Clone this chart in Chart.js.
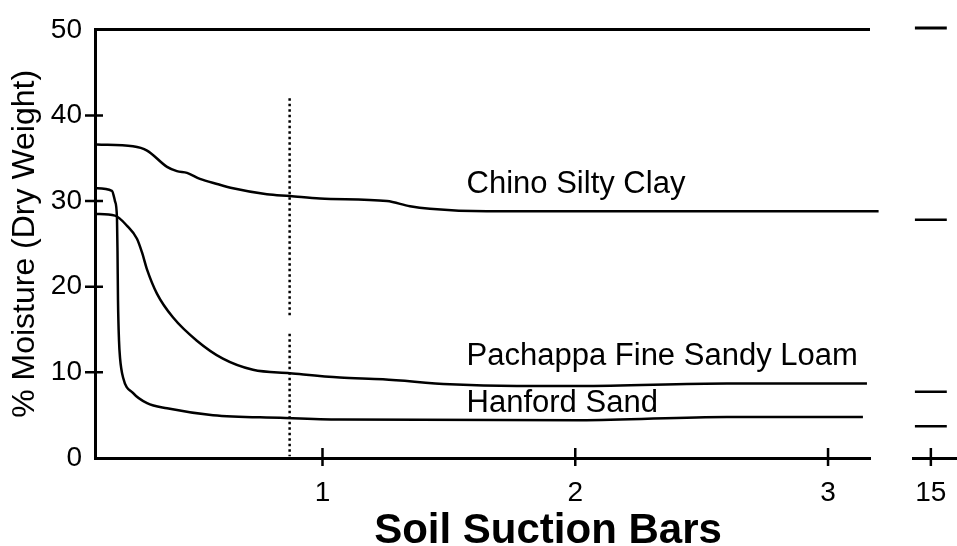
<!DOCTYPE html>
<html lang="en">
<head>
<meta charset="UTF-8">
<title>Soil Suction Bars</title>
<script src="https://cdn.jsdelivr.net/npm/chart.js"></script>
<style>
  body { margin: 0; background: #fff; }
  #wrap { position: relative; width: 957px; height: 546px; font-family: "Liberation Sans", Arial, sans-serif; }
  #wrap canvas { position: absolute; top: 0; }
  #xTitle { position: absolute; left: 348px; top: 508px; width: 400px; text-align: center;
            font-weight: bold; font-size: 42px; line-height: 42px; color: #000; }
</style>
</head>
<body>
<div id="wrap">
  <canvas id="mainChart" width="957" height="546" style="left:0"></canvas>
  <canvas id="breakChart" width="77" height="546" style="left:880px"></canvas>
  <div id="xTitle">Soil Suction Bars</div>
</div>
<script>
// values: suction in bars, moisture in % dry weight
const seriesNames = ['Chino Silty Clay', 'Pachappa Fine Sandy Loam', 'Hanford Sand'];

const chinoX = [0.108, 0.25, 0.306, 0.385, 0.424, 0.464, 0.515, 0.583, 0.646, 0.78, 0.871, 0.99, 1.255, 1.346, 1.425, 1.65, 2.1, 2.6, 3.2];
const chinoY = [36.6, 36.4, 35.9, 34.0, 33.5, 33.3, 32.6, 32.0, 31.5, 30.8, 30.6, 30.3, 30.0, 29.4, 29.1, 28.8, 28.8, 28.8, 28.8];

const pachappaX = [0.1, 0.179, 0.227, 0.266, 0.286, 0.306, 0.345, 0.409, 0.503, 0.606, 0.725, 0.871, 1.069, 1.239, 1.504, 1.769, 2.018, 2.6, 3.154];
const pachappaY = [28.5, 28.3, 27.1, 25.6, 24.0, 22.0, 19.2, 16.4, 13.7, 11.6, 10.3, 9.9, 9.4, 9.2, 8.6, 8.4, 8.4, 8.7, 8.7];

const hanfordX = [0.1, 0.167, 0.179, 0.187, 0.189, 0.191, 0.195, 0.199, 0.211, 0.25, 0.306, 0.385, 0.567, 0.832, 1.069, 2.018, 2.6, 3.138];
const hanfordY = [31.5, 31.2, 30.0, 28.0, 24.2, 18.4, 13.7, 11.7, 9.4, 7.6, 6.4, 5.8, 5.0, 4.7, 4.5, 4.4, 4.8, 4.8];

// dotted marker line (two pieces)
const markerX = 0.87;
const markerUpper = [42.0, 16.4];
const markerLower = [14.5, 0.2];

// values at 15 bars (broken axis part): top line, Chino, Pachappa, Hanford
const at15 = [50, 27.7, 7.7, 3.7];

const xTickVals = [1, 2, 3];
const breakTickVals = [15];
const yTickVals = [0, 10, 20, 30, 40, 50];
const yMarkedTicks = [10, 20, 30, 40];

Chart.defaults.font.family = '"Liberation Sans", Arial, sans-serif';
Chart.defaults.color = '#000';

const pts = (xs, ys) => xs.map((x, i) => ({ x: x, y: ys[i] }));

function curve(xs, ys) {
  return {
    data: pts(xs, ys),
    borderColor: '#000',
    borderWidth: 2.5,
    pointRadius: 0,
    cubicInterpolationMode: 'monotone',
    clip: false
  };
}

function dotted(lo, hi) {
  return {
    data: [{ x: markerX, y: lo }, { x: markerX, y: hi }],
    borderColor: '#000',
    borderWidth: 2.5,
    borderDash: [2.5, 3],
    pointRadius: 0
  };
}

// tick marks that cross the axis line
const crossTicks = {
  id: 'crossTicks',
  afterDraw(chart, args, opts) {
    const ctx = chart.ctx;
    const area = chart.chartArea;
    ctx.save();
    ctx.strokeStyle = '#000';
    ctx.lineWidth = 2.5;
    ctx.beginPath();
    (opts.x || []).forEach(v => {
      const px = chart.scales.x.getPixelForValue(v);
      ctx.moveTo(px, area.bottom - 10);
      ctx.lineTo(px, area.bottom + 8);
    });
    (opts.y || []).forEach(v => {
      const py = chart.scales.y.getPixelForValue(v);
      ctx.moveTo(area.left - 10, py);
      ctx.lineTo(area.left + 8, py);
    });
    ctx.stroke();
    ctx.restore();
  }
};

// curve names written next to the curves
const curveLabels = {
  id: 'curveLabels',
  afterDatasetsDraw(chart, args, opts) {
    const ctx = chart.ctx;
    ctx.save();
    ctx.fillStyle = '#000';
    ctx.font = opts.font;
    ctx.textAlign = 'left';
    ctx.textBaseline = 'middle';
    opts.items.forEach(it => {
      ctx.fillText(it.text, chart.scales.x.getPixelForValue(it.x), chart.scales.y.getPixelForValue(it.y));
    });
    ctx.restore();
  }
};

new Chart(document.getElementById('mainChart'), {
  type: 'line',
  data: {
    datasets: [
      curve(chinoX, chinoY),
      curve(pachappaX, pachappaY),
      curve(hanfordX, hanfordY),
      dotted(markerUpper[0], markerUpper[1]),
      dotted(markerLower[0], markerLower[1])
    ]
  },
  options: {
    responsive: false,
    animation: false,
    devicePixelRatio: 1,
    layout: { padding: { top: 28, right: 87, left: 0, bottom: 0 } },
    plugins: {
      legend: { display: false },
      tooltip: { enabled: false },
      crossTicks: { x: xTickVals, y: yMarkedTicks },
      curveLabels: {
        font: '31px "Liberation Sans", Arial, sans-serif',
        items: [
          { text: seriesNames[0], x: 1.57, y: 31.9 },
          { text: seriesNames[1], x: 1.57, y: 11.8 },
          { text: seriesNames[2], x: 1.57, y: 6.4 }
        ]
      }
    },
    scales: {
      x: {
        type: 'linear',
        min: 0.1,
        max: 3.166,
        afterBuildTicks: s => { s.ticks = xTickVals.map(v => ({ value: v })); },
        afterFit: s => { s.height = 88; },
        grid: { display: false },
        border: { display: true, color: '#000', width: 3 },
        ticks: { font: { size: 28 }, padding: 10, maxRotation: 0 }
      },
      y: {
        type: 'linear',
        min: 0,
        max: 50,
        afterBuildTicks: s => { s.ticks = yTickVals.map(v => ({ value: v })); },
        afterFit: s => { s.width = 95; },
        grid: {
          drawTicks: false,
          lineWidth: 3,
          color: c => (c.tick && c.tick.value === 50 ? '#000' : 'rgba(0,0,0,0)')
        },
        border: { display: true, color: '#000', width: 3 },
        ticks: { font: { size: 28 }, padding: 13 },
        title: {
          display: true,
          text: '% Moisture (Dry Weight)',
          font: { size: 32 },
          padding: { top: 6, bottom: 0 }
        }
      }
    }
  },
  plugins: [crossTicks, curveLabels]
});

// small broken-axis part at 15 bars
const dashHalf = 0.25;
new Chart(document.getElementById('breakChart'), {
  type: 'line',
  data: {
    datasets: at15.map((v, i) => ({
      data: [{ x: 15 - dashHalf, y: v }, { x: 15 + dashHalf, y: v }],
      borderColor: '#000',
      borderWidth: i === 0 ? 3 : 2.5,
      pointRadius: 0,
      clip: false
    }))
  },
  options: {
    responsive: false,
    animation: false,
    devicePixelRatio: 1,
    layout: { padding: { top: 28, right: 0, left: 33, bottom: 0 } },
    plugins: {
      legend: { display: false },
      tooltip: { enabled: false },
      crossTicks: { x: breakTickVals, y: [] }
    },
    scales: {
      x: {
        type: 'linear',
        min: 14.72,
        max: 15.41,
        afterBuildTicks: s => { s.ticks = breakTickVals.map(v => ({ value: v })); },
        afterFit: s => { s.height = 88; },
        grid: { display: false },
        border: { display: true, color: '#000', width: 3 },
        ticks: { font: { size: 28 }, padding: 10, maxRotation: 0 }
      },
      y: { type: 'linear', min: 0, max: 50, display: false }
    }
  },
  plugins: [crossTicks]
});
</script>
</body>
</html>
